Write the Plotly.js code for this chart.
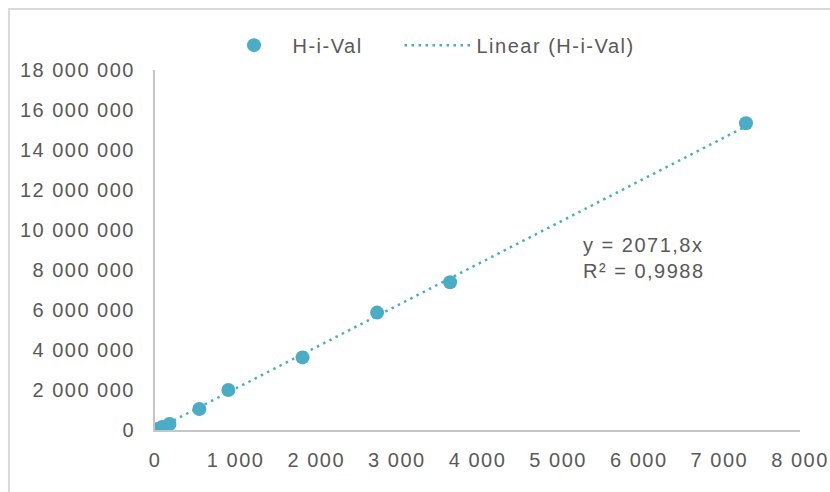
<!DOCTYPE html>
<html>
<head>
<meta charset="utf-8">
<script src="https://cdn.plot.ly/plotly-3.0.1.min.js"></script>
<style>
  html, body { margin: 0; padding: 0; background: #ffffff; }
  #chart { width: 830px; height: 492px; }
  #chart .main-svg text { letter-spacing: 1.5px; }
  /* let the last legend entry run past its fixed entry width */
  #chart .legend .scrollbox { clip-path: none !important; }
</style>
</head>
<body>
<div id="chart"></div>
<script>
// Calibration points (concentration vs. response) for H-i-Val
const seriesName = 'H-i-Val';
const conc = [30, 90, 180, 550, 910, 1830, 2755, 3660, 7330];
const response = [50000, 150000, 300000, 1050000, 2000000, 3630000, 5870000, 7390000, 15340000];

// Linear fit through the origin, as given by the fitted equation
const slope = 2071.8;
const rSquared = '0,9988';

const xTicks = [0, 1000, 2000, 3000, 4000, 5000, 6000, 7000, 8000];
const yTicks = [0, 2e6, 4e6, 6e6, 8e6, 10e6, 12e6, 14e6, 16e6, 18e6];

const accent = '#4bacc6';
const textColor = '#595959';
const fontSize = 20;

const fitX = [0, Math.max(...conc)];
const fitY = fitX.map(v => slope * v);

const points = {
  type: 'scatter',
  mode: 'markers',
  name: seriesName,
  x: conc,
  y: response,
  marker: { color: accent, size: 14 },
  hoverinfo: 'x+y'
};

const fit = {
  type: 'scatter',
  mode: 'lines',
  name: 'Linear (' + seriesName + ')',
  x: fitX,
  y: fitY,
  line: { color: accent, width: 2.5, dash: '2.5px,4.5px' },
  hoverinfo: 'skip'
};

const layout = {
  width: 830,
  height: 492,
  margin: { l: 155, r: 30, t: 70, b: 62 },
  paper_bgcolor: '#ffffff',
  plot_bgcolor: '#ffffff',
  separators: ', ',
  font: { family: '"Liberation Sans", Arial, sans-serif', size: fontSize, color: textColor },
  showlegend: true,
  legend: {
    orientation: 'h',
    x: 0.0938, xanchor: 'left',
    y: 1.069, yanchor: 'middle',
    font: { size: fontSize, color: textColor },
    itemwidth: 67,
    entrywidth: 102,
    entrywidthmode: 'pixels',
    bgcolor: 'rgba(0,0,0,0)'
  },
  xaxis: {
    range: [0, 8000],
    tickvals: xTicks,
    tickformat: ',',
    showgrid: false,
    zeroline: false,
    showline: true,
    linecolor: '#c6c6c6',
    linewidth: 2,
    ticks: '',
    ticklabelstandoff: 11,
    tickfont: { size: fontSize, color: textColor },
    fixedrange: true
  },
  yaxis: {
    range: [0, 18e6],
    tickvals: yTicks,
    tickformat: ',',
    showgrid: false,
    zeroline: false,
    showline: true,
    linecolor: '#c6c6c6',
    linewidth: 2,
    ticks: '',
    ticklabelstandoff: 14,
    tickfont: { size: fontSize, color: textColor },
    fixedrange: true
  },
  shapes: [{
    // chart area frame (top and left edges)
    type: 'rect', xref: 'paper', yref: 'paper',
    x0: -0.2264, x1: 1.2, y0: -0.4, y1: 1.1694,
    line: { color: '#d9d9d9', width: 2 },
    layer: 'below'
  }],
  annotations: [{
    xref: 'x', yref: 'y',
    x: 5280, y: 8.6e6,
    xanchor: 'left', yanchor: 'middle', align: 'left',
    showarrow: false,
    text: 'y = ' + String(slope).replace('.', ',') + 'x<br>R² = ' + rSquared,
    font: { size: fontSize, color: textColor }
  }]
};

Plotly.newPlot('chart', [points, fit], layout, { displayModeBar: false });
</script>
</body>
</html>
